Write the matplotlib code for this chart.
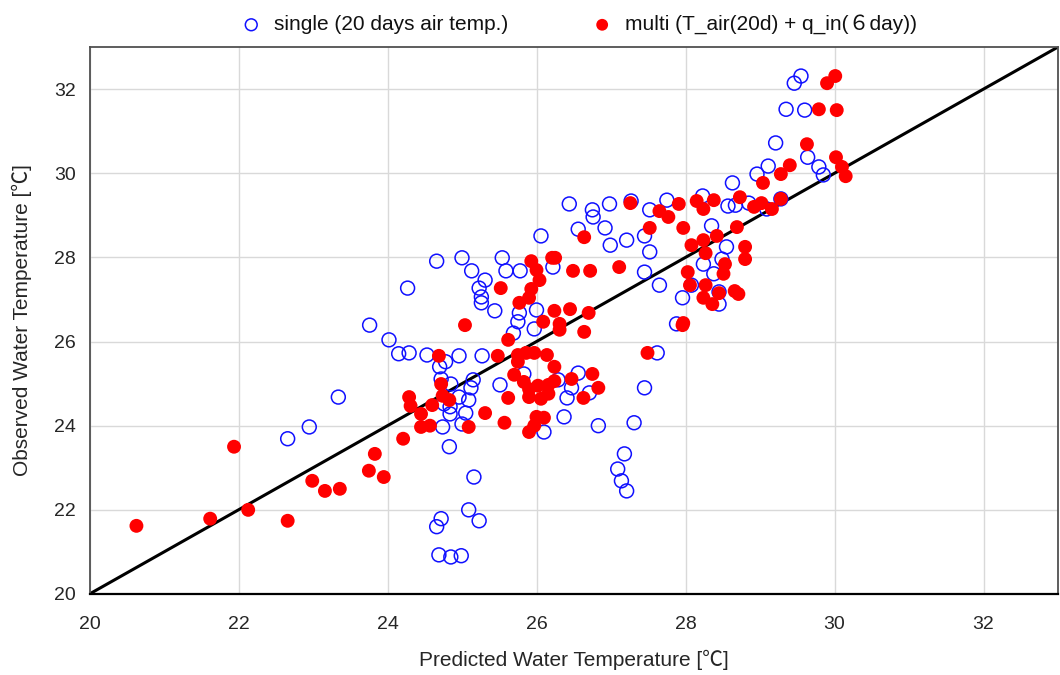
import matplotlib
matplotlib.use("Agg")
import matplotlib.pyplot as plt

# single model (20 days air temp.)
single_pred = [29.55, 29.46, 29.35, 29.60, 29.21, 29.64, 29.79, 29.85, 29.11, 28.96,
               28.63, 28.23, 27.75, 27.52, 28.57, 28.67, 28.85, 29.09, 29.28, 28.35,
               28.55, 27.45, 27.52, 28.24, 28.38, 28.49, 27.45, 27.65, 27.96, 28.08,
               28.45, 28.45, 27.88, 27.27, 26.44, 26.75, 26.76, 26.98, 26.56, 26.92,
               26.99, 27.21, 26.06, 24.66, 25.00, 25.13, 25.54, 25.59, 25.78, 26.22,
               24.27, 25.31, 25.23, 25.26, 25.26, 25.44, 26.00, 25.77, 25.75, 25.69,
               25.97, 24.29, 24.15, 24.53, 24.96, 25.27, 24.78, 24.70, 24.72, 24.85,
               25.15, 25.12, 24.96, 25.09, 24.76, 24.84, 24.84, 25.05, 25.00, 24.74,
               24.83, 25.16, 25.09, 25.23, 24.72, 24.66, 24.69, 24.85, 24.99, 25.51,
               25.83, 26.29, 26.47, 26.56, 26.41, 26.71, 26.37, 26.10, 26.83, 27.31,
               27.45, 27.62, 27.18, 27.09, 27.14, 27.21, 23.76, 24.02, 23.34, 22.95,
               22.66]
single_obs = [32.31, 32.14, 31.52, 31.50, 30.72, 30.38, 30.15, 29.96, 30.17, 29.98,
              29.77, 29.46, 29.36, 29.13, 29.22, 29.24, 29.29, 29.15, 29.39, 28.75,
              28.25, 28.51, 28.13, 27.84, 27.61, 27.96, 27.65, 27.34, 27.04, 27.34,
              27.18, 26.89, 26.42, 29.34, 29.27, 29.13, 28.96, 29.27, 28.67, 28.70,
              28.29, 28.41, 28.51, 27.91, 27.99, 27.68, 27.99, 27.68, 27.68, 27.77,
              27.27, 27.46, 27.27, 27.06, 26.92, 26.73, 26.75, 26.68, 26.47, 26.20,
              26.30, 25.73, 25.71, 25.68, 25.66, 25.66, 25.52, 25.40, 25.11, 24.99,
              25.09, 24.90, 24.68, 24.61, 24.52, 24.45, 24.28, 24.30, 24.04, 23.97,
              23.50, 22.78, 22.00, 21.74, 21.79, 21.60, 20.93, 20.88, 20.91, 24.97,
              25.23, 25.09, 24.90, 25.25, 24.66, 24.78, 24.21, 23.85, 24.00, 24.07,
              24.90, 25.73, 23.33, 22.97, 22.69, 22.45, 26.39, 26.04, 24.68, 23.97,
              23.69]

# multi model (T_air(20d) + q_in(6 day))
multi_pred = [20.63, 21.62, 22.13, 22.66, 21.94, 22.99, 23.16, 23.36, 23.75, 23.83,
              23.95, 24.21, 24.29, 24.31, 24.45, 24.45, 24.60, 24.57, 24.69, 24.72,
              24.74, 24.83, 25.04, 25.09, 25.31, 25.57, 25.62, 25.48, 25.62, 25.70,
              25.75, 25.75, 25.86, 25.97, 26.14, 26.24, 25.83, 25.90, 26.02, 26.16,
              26.24, 25.90, 26.06, 26.16, 26.00, 26.10, 25.90, 25.97, 26.31, 26.31,
              26.09, 26.64, 26.47, 26.75, 26.83, 26.63, 27.49, 27.96, 26.24, 26.45,
              26.70, 25.77, 25.90, 25.93, 26.04, 26.00, 25.93, 26.21, 26.25, 26.49,
              26.72, 27.11, 26.64, 25.52, 27.26, 27.65, 27.77, 27.91, 28.15, 28.24,
              28.38, 27.52, 27.97, 28.08, 28.24, 28.42, 28.27, 28.53, 28.51, 28.66,
              28.71, 28.03, 28.06, 28.27, 28.24, 28.36, 28.45, 27.97, 28.73, 28.92,
              29.02, 29.16, 29.28, 28.69, 28.80, 28.80, 29.04, 29.28, 29.40, 29.63,
              29.79, 30.03, 29.90, 30.01, 30.02, 30.10, 30.15]
multi_obs = [21.62, 21.79, 22.00, 21.74, 23.50, 22.69, 22.45, 22.50, 22.93, 23.33,
             22.78, 23.69, 24.68, 24.47, 24.28, 23.97, 24.49, 24.00, 25.66, 24.99,
             24.71, 24.61, 26.39, 23.97, 24.30, 24.07, 24.66, 25.66, 26.04, 25.21,
             25.52, 25.68, 25.73, 25.73, 25.68, 25.40, 25.04, 24.87, 24.95, 24.97,
             25.06, 24.68, 24.64, 24.76, 24.21, 24.19, 23.85, 24.00, 26.42, 26.28,
             26.47, 26.23, 25.11, 25.23, 24.90, 24.66, 25.73, 26.39, 26.73, 26.77,
             26.68, 26.92, 27.04, 27.25, 27.46, 27.70, 27.91, 27.99, 27.99, 27.68,
             27.68, 27.77, 28.48, 27.27, 29.29, 29.10, 28.96, 29.27, 29.34, 29.15,
             29.36, 28.70, 28.70, 28.29, 28.41, 28.51, 28.10, 27.84, 27.61, 27.20,
             27.13, 27.65, 27.34, 27.34, 27.04, 26.89, 27.15, 26.44, 29.43, 29.20,
             29.29, 29.15, 29.39, 28.72, 28.25, 27.96, 29.77, 29.98, 30.19, 30.69,
             31.52, 31.50, 32.14, 32.31, 30.38, 30.15, 29.93]

axis_min, axis_max = 20, 33
ticks = [20, 22, 24, 26, 28, 30, 32]

FONT = ['Liberation Sans', 'Noto Sans CJK JP', 'DejaVu Sans']
plt.rcParams['font.family'] = FONT

fig = plt.figure(figsize=(10.6, 6.75), dpi=100)
ax = fig.add_axes([89.5 / 1060, 1 - 594 / 675, (1058 - 89.5) / 1060, (594 - 47) / 675])

ax.plot([axis_min, axis_max], [axis_min, axis_max], color='black', lw=2.2, zorder=2)
ax.scatter(single_pred, single_obs, s=100, facecolors='none', edgecolors='#1010ff',
           linewidths=1.1, zorder=3, label='single (20 days air temp.)')
ax.scatter(multi_pred, multi_obs, s=100, color='#ff0000', edgecolors='none',
           zorder=4, label='multi (T_air(20d) + q_in(\uff16day))')

ax.set_xlim(axis_min, axis_max)
ax.set_ylim(axis_min, axis_max)
ax.set_xticks(ticks)
ax.set_yticks(ticks)
ax.tick_params(length=0, labelsize=14, colors='#262626')
ax.tick_params(axis='x', pad=16)
ax.tick_params(axis='y', pad=10)
ax.grid(True, color='#d9d9d9', lw=1)
ax.set_axisbelow(True)
for sp in ax.spines.values():
    sp.set_color('#505050')
    sp.set_linewidth(1.3)
ax.spines['bottom'].set_color('black')
ax.spines['bottom'].set_linewidth(1.6)

ax.set_xlabel('Predicted Water Temperature [\u2103]', fontsize=15, color='#262626', labelpad=12)
ax.set_ylabel('Observed Water Temperature [\u2103]', fontsize=15, color='#262626', labelpad=16)

leg = ax.legend(loc='lower center', bbox_to_anchor=(0.5, 1.0), ncol=2, frameon=False,
                fontsize=15, handletextpad=0.1, columnspacing=3.5, markerscale=0.85,
                borderaxespad=0.2)
for t in leg.get_texts():
    t.set_color('#111111')

fig.savefig('out.png', dpi=100)
